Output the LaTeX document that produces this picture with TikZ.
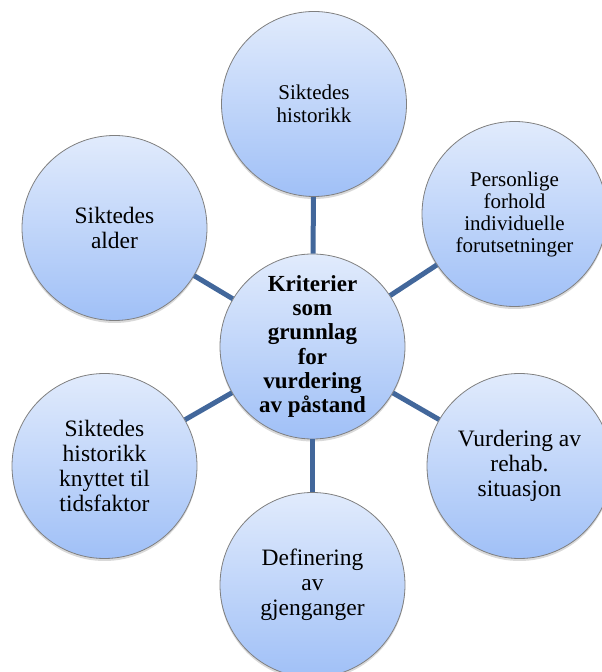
\documentclass[tikz,border=0pt]{standalone}
\usepackage{fontspec}
\setmainfont{Liberation Serif}
\usepackage{tikz}
\usetikzlibrary{shapes,positioning,shadows}

\definecolor{bubbletop}{HTML}{E1EBFC}
\definecolor{bubblebot}{HTML}{A0C0F7}
\definecolor{bubbleline}{HTML}{808080}
\definecolor{linkblue}{HTML}{42679B}

\begin{document}
\begin{tikzpicture}[x=1pt,y=1pt,
            bubble/.style={circle, draw=bubbleline, line width=0.8pt,
                top color=bubbletop, bottom color=bubblebot,
                minimum size=185pt, inner sep=0pt, align=center,
                drop shadow={opacity=0.3, shadow xshift=0pt, shadow yshift=-2.5pt},
                font=\fontsize{23.5}{25}\selectfont},
            hub/.style={bubble, font=\fontsize{23}{24.3}\selectfont\bfseries},
            link/.style={draw=linkblue, line width=5pt}]

            \useasboundingbox (0,0) rectangle (602,672);

            \node [hub] (crit) at (312.5,325.5) {Kriterier\\som\\grunnlag\\for\\vurdering\\av påstand};

            \node [bubble,font=\fontsize{21}{23}\selectfont] (hist) at (314,568) {Siktedes\\historikk};
            \node [bubble,font=\fontsize{21}{22}\selectfont] (pers) at (514.5,458) {Personlige\\forhold\\individuelle\\forutsetninger};
            \node [bubble] (alder) at (114.5,444) {Siktedes\\alder};
            \node [bubble] (tids) at (104.5,206) {Siktedes\\historikk\\knyttet til\\tidsfaktor};
            \node [bubble] (rehab) at (519.5,206) {Vurdering av\\rehab.\\situasjon};
            \node [bubble] (gjen) at (312.5,87) {Definering\\av\\gjenganger};

            \draw [link] (crit) -- (hist);
            \draw [link] (crit) -- (pers);
            \draw [link] (crit) -- (alder);
            \draw [link] (crit) -- (tids);
            \draw [link] (crit) -- (rehab);
            \draw [link] (crit) -- (gjen);

        \end{tikzpicture}
\end{document}
